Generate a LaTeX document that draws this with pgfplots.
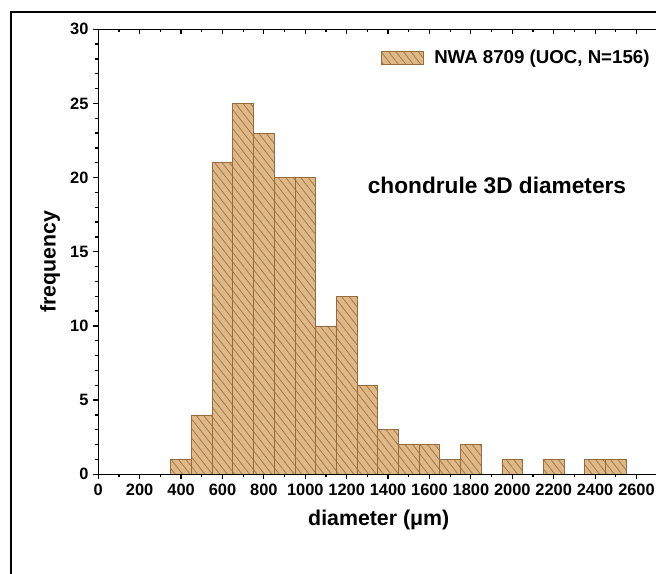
\documentclass[border=0pt]{standalone}
\usepackage{pgfplots}
\pgfplotsset{compat=1.18}
\usepackage{fontspec}
\setmainfont{Liberation Sans}
\usetikzlibrary{patterns.meta}
\definecolor{barfill}{RGB}{222,184,135}
\definecolor{hatch}{RGB}{165,120,72}
\definecolor{baredge}{RGB}{150,108,62}
\begin{document}
\begin{tikzpicture}[x=1pt,y=1pt]
\useasboundingbox (0,0) rectangle (492,430.5);
\draw[line width=1.5pt] (8.25,-5) -- (8.25,421.5) -- (500,421.5);
\begin{axis}[
  at={(73.7pt,74.8pt)}, anchor=south west,
  scale only axis, width=420.75pt, height=333.75pt,
  xmin=0, xmax=2710, ymin=0, ymax=30,
  axis line style={line width=1.1pt},
  xtick distance=200, minor x tick num=1,
  ytick distance=5, minor y tick num=4,
  tick align=outside, xtick pos=bottom, ytick pos=left,
  major tick length=3.8pt, minor tick length=2.4pt,
  every tick/.style={line width=0.9pt, black},
  /pgf/number format/assume math mode=true,
  xticklabel style={/pgf/number format/1000 sep={}},
  ticklabel style={font=\bfseries\fontsize{12.3}{14}\selectfont},
  xlabel={diameter (μm)}, ylabel={frequency},
  label style={font=\bfseries\fontsize{16}{19}\selectfont},
  xlabel style={at={(axis description cs:0.5,-0.103)}, anchor=center},
  ylabel style={at={(axis description cs:-0.086,0.477)}, anchor=center, rotate=0},
  legend style={draw=none, fill=none, at={(axis description cs:0.995,0.935)}, anchor=east,
    font=\bfseries\fontsize{14}{16}\selectfont},
  legend image code/.code={\path[#1] (0pt,-5pt) rectangle (31.5pt,5pt); \path (37pt,0pt);},
]
\addplot[ybar, bar width=100, bar shift=0pt, draw=baredge, line width=0.6pt,
  preaction={fill=barfill},
  pattern={Lines[angle=-52,distance=4.4pt,line width=0.6pt]}, pattern color=hatch]
coordinates {
(400,1) (500,4) (600,21) (700,25) (800,23) (900,20) (1000,20) (1100,10)
(1200,12) (1300,6) (1400,3) (1500,2) (1600,2) (1700,1) (1800,2)
(2000,1) (2200,1) (2400,1) (2500,1)
};
\addlegendentry{NWA 8709 (UOC, N=156)}
\node[font=\bfseries\fontsize{17}{20}\selectfont] at (axis cs:1926,19.5) {chondrule 3D diameters};
\end{axis}
\begin{axis}[
  at={(73.7pt,74.8pt)}, anchor=south west,
  scale only axis, width=420.75pt, height=333.75pt,
  xmin=0, xmax=2710, ymin=0, ymax=30,
  axis line style={line width=1.1pt},
  xtick distance=200, minor x tick num=1, ytick=\empty,
  tick align=inside, xtick pos=upper, xticklabels=\empty,
  major tick length=3.8pt, minor tick length=2.4pt,
  every tick/.style={line width=0.9pt, black},
]
\end{axis}
\end{tikzpicture}
\end{document}
